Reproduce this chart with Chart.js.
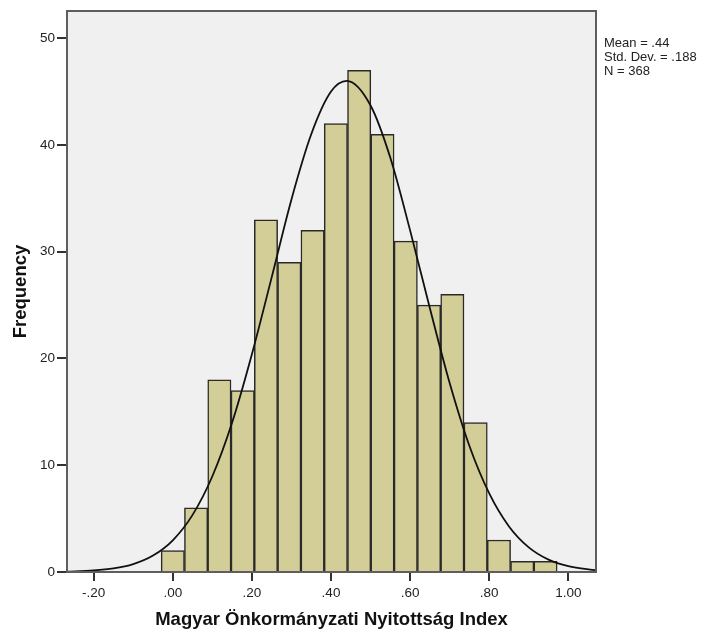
<!DOCTYPE html>
<html>
<head>
<meta charset="utf-8">
<script src="https://cdn.jsdelivr.net/npm/chart.js@4.4.1/dist/chart.umd.min.js"></script>
<style>
    body { margin: 0; background: #fff; }
    #wrap { position: relative; width: 703px; height: 633px; }
    #stats {
        position: absolute; left: 604px; top: 36px;
        font: 13px "Liberation Sans", Arial, sans-serif; line-height: 14px; color: #222;
        white-space: nowrap;
    }
</style>
</head>
<body>
<div id="wrap">
    <canvas id="histChart"></canvas>
    <div id="stats">Mean = .44<br>Std. Dev. = .188<br>N = 368</div>
</div>
<script>
// bin centres and frequencies
const binCenters = [0.0000, 0.0589, 0.1178, 0.1767, 0.2356, 0.2945, 0.3534, 0.4123, 0.4712,
    0.5301, 0.5890, 0.6479, 0.7068, 0.7657, 0.8246, 0.8835, 0.9424];
const frequencies = [2, 6, 18, 17, 33, 29, 32, 42, 47, 41, 31, 25, 26, 14, 3, 1, 1];

// normal curve
const curveX = [-0.27, -0.20, -0.15, -0.10, -0.05, 0.00, 0.05, 0.10, 0.15, 0.20, 0.25, 0.30, 0.35,
    0.40, 0.44, 0.50, 0.55, 0.60, 0.65, 0.70, 0.75, 0.80, 0.85, 0.90, 0.95, 1.00, 1.07];
const curveY = [0.04, 0.14, 0.33, 0.74, 1.54, 2.97, 5.35, 8.97, 14.0, 20.4, 27.6, 34.9, 41.0,
    45.0, 46.0, 43.7, 38.8, 32.0, 24.7, 17.7, 11.8, 7.36, 4.27, 2.31, 1.16, 0.55, 0.17];

const xTicks = [-0.2, 0, 0.2, 0.4, 0.6, 0.8, 1.0];
const yTicks = [0, 10, 20, 30, 40, 50];

const fmtX = (v) => v.toFixed(2).replace(/^(-?)0\./, '$1.');

const plotFrame = {
    id: 'plotFrame',
    beforeDraw(chart) {
        const { ctx, chartArea: a } = chart;
        ctx.save();
        ctx.fillStyle = '#f0f0f0';
        ctx.fillRect(a.left, a.top, a.right - a.left, a.bottom - a.top);
        ctx.restore();
    },
    afterDraw(chart) {
        const { ctx, chartArea: a } = chart;
        ctx.save();
        ctx.strokeStyle = '#5e5e5e';
        ctx.lineWidth = 2;
        ctx.strokeRect(a.left, a.top, a.right - a.left, a.bottom - a.top);
        ctx.restore();
    }
};

const tickFont = { family: '"Liberation Sans", Arial, sans-serif', size: 13.5 };
const titleFont = { family: '"Liberation Sans", Arial, sans-serif', size: 18.5, weight: 'bold' };

new Chart(document.getElementById('histChart'), {
    type: 'bar',
    data: {
        datasets: [{
            type: 'line',
            data: curveX.map((x, i) => ({ x, y: curveY[i] })),
            borderColor: '#111',
            borderWidth: 1.8,
            pointRadius: 0,
            cubicInterpolationMode: 'monotone',
            fill: false,
            order: 0
        }, {
            type: 'bar',
            data: binCenters.map((x, i) => ({ x, y: frequencies[i] })),
            backgroundColor: '#d3ce97',
            borderColor: '#2a2a2a',
            borderWidth: 1.5,
            barPercentage: 1,
            categoryPercentage: 1,
            order: 1
        }]
    },
    plugins: [plotFrame],
    options: {
        responsive: true,
        maintainAspectRatio: false,
        animation: false,
        layout: { padding: { left: 0, right: 107, top: 11, bottom: 0 } },
        plugins: { legend: { display: false }, tooltip: { enabled: false } },
        scales: {
            x: {
                type: 'linear',
                min: -0.2675,
                max: 1.07,
                offset: false,
                afterBuildTicks: (axis) => { axis.ticks = xTicks.map((value) => ({ value })); },
                afterFit: (axis) => { axis.height = 61; },
                grid: { offset: false, drawOnChartArea: false, drawTicks: true, tickLength: 9, color: '#333', lineWidth: 2 },
                border: { display: false },
                ticks: { color: '#222', font: tickFont, padding: 4, maxRotation: 0, callback: (v) => fmtX(v) },
                title: { display: true, text: 'Magyar Önkormányzati Nyitottság Index', color: '#111', font: titleFont, padding: { top: 0, bottom: 2 } }
            },
            y: {
                min: 0,
                max: 52.55,
                afterBuildTicks: (axis) => { axis.ticks = yTicks.map((value) => ({ value })); },
                afterFit: (axis) => { axis.width = 67; },
                grid: { drawOnChartArea: false, drawTicks: true, tickLength: 10, color: '#333', lineWidth: 2 },
                border: { display: false },
                ticks: { color: '#222', font: tickFont, padding: 2 },
                title: { display: true, text: 'Frequency', color: '#111', font: titleFont, padding: { top: 10, bottom: 0 } }
            }
        }
    }
});
</script>
</body>
</html>
